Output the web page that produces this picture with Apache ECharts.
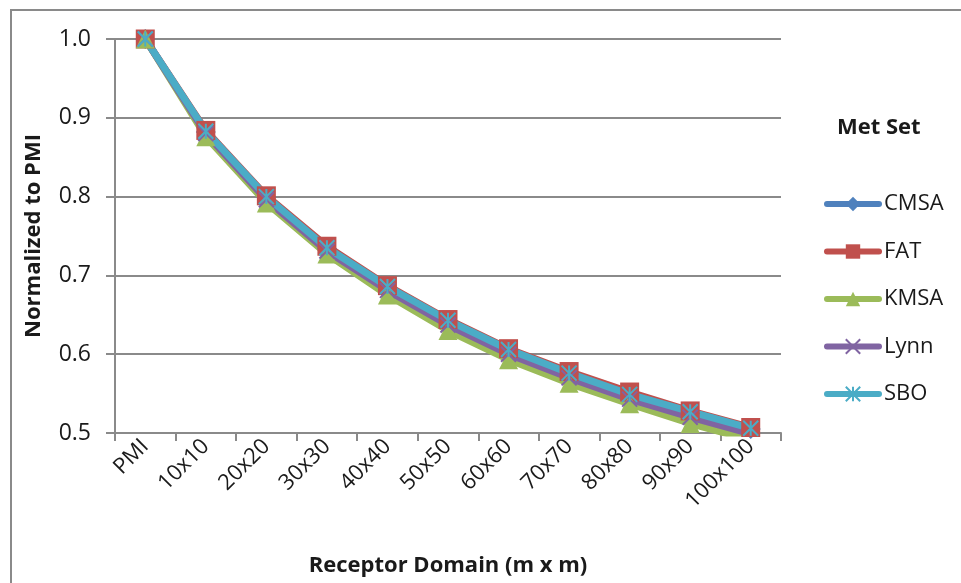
<!DOCTYPE html>
<html>
<head>
<meta charset="utf-8">
<script src="https://cdn.jsdelivr.net/npm/echarts@6/dist/echarts.min.js"></script>
<style>
  html, body { margin: 0; padding: 0; background: #fff; }
  #chart { width: 961px; height: 583px; }
</style>
</head>
<body>
<div id="chart"></div>
<script>
// Receptor domain sizes along the x axis
const categories = ['PMI', '10x10', '20x20', '30x30', '40x40', '50x50', '60x60', '70x70', '80x80', '90x90', '100x100'];

// Normalized values per met set
const cmsa = [1.0, 0.882, 0.799, 0.734, 0.685, 0.642, 0.605, 0.575, 0.548, 0.525, 0.505];
const fat  = [1.0, 0.884, 0.801, 0.737, 0.687, 0.644, 0.607, 0.578, 0.552, 0.528, 0.507];
const kmsa = [1.0, 0.876, 0.792, 0.727, 0.675, 0.630, 0.593, 0.563, 0.537, 0.512, 0.491];
const lynn = [1.0, 0.880, 0.796, 0.731, 0.681, 0.637, 0.600, 0.570, 0.543, 0.520, 0.499];
const sbo  = [1.0, 0.883, 0.800, 0.735, 0.686, 0.643, 0.606, 0.576, 0.549, 0.527, 0.506];

const yTicks = [0.5, 0.6, 0.7, 0.8, 0.9, 1.0];

const FONT = 'Open Sans';
const crossPath = 'path://M0,0L10,10M10,0L0,10';
const starPath = 'path://M0,0L10,10M10,0L0,10M5,0L5,10';

function lineSeries(name, data, color, symbol, size, stroked) {
  return {
    name: name,
    type: 'line',
    data: data,
    symbol: symbol,
    symbolSize: size,
    showAllSymbol: true,
    lineStyle: { color: color, width: 7, cap: 'round', join: 'round' },
    itemStyle: stroked
      ? { color: color, borderColor: color, borderWidth: 2 }
      : { color: color, borderWidth: 0 },
    emphasis: { disabled: true },
    animation: false,
    clip: true
  };
}

const chart = echarts.init(document.getElementById('chart'), null, { renderer: 'canvas' });
chart.setOption({
  backgroundColor: '#ffffff',
  animation: false,
  textStyle: { fontFamily: FONT },
  title: {
    text: 'Met Set',
    left: 832,
    top: 112,
    textStyle: { fontFamily: FONT, fontSize: 22, fontWeight: 'bold', color: '#1a1a1a' }
  },
  legend: {
    orient: 'vertical',
    left: 819,
    top: 188,
    itemWidth: 52,
    itemHeight: 18,
    itemGap: 25.5,
    lineStyle: { width: 6, cap: 'round' },
    textStyle: { fontFamily: FONT, fontSize: 22, color: '#1a1a1a' },
    data: ['CMSA', 'FAT', 'KMSA', 'Lynn', 'SBO']
  },
  grid: { left: 115, right: 180, top: 39, bottom: 150, containLabel: false },
  xAxis: {
    type: 'category',
    data: categories,
    boundaryGap: true,
    name: 'Receptor Domain (m x m)',
    nameLocation: 'middle',
    nameGap: 122,
    nameTextStyle: { fontFamily: FONT, fontSize: 22, fontWeight: 'bold', color: '#1a1a1a' },
    axisLine: { lineStyle: { color: '#8a8a8a', width: 2 } },
    axisTick: { show: true, length: 8, lineStyle: { color: '#8a8a8a', width: 2 } },
    axisLabel: { rotate: 45, fontFamily: FONT, fontSize: 22, color: '#1a1a1a', margin: 10 },
    splitLine: { show: false }
  },
  yAxis: {
    type: 'value',
    min: 0.5,
    max: 1.0,
    interval: 0.1,
    name: 'Normalized to PMI',
    nameLocation: 'middle',
    nameGap: 70,
    nameRotate: 90,
    nameTextStyle: { fontFamily: FONT, fontSize: 22, fontWeight: 'bold', color: '#1a1a1a' },
    axisLine: { show: true, lineStyle: { color: '#8a8a8a', width: 2 } },
    axisTick: { show: true, inside: false, length: 9, lineStyle: { color: '#8a8a8a', width: 2 } },
    axisLabel: {
      fontFamily: FONT, fontSize: 23, color: '#1a1a1a', margin: 24,
      formatter: function (v) {
        const t = yTicks.find(function (k) { return Math.abs(k - v) < 1e-6; });
        return t !== undefined ? t.toFixed(1) : '';
      }
    },
    splitLine: { show: true, lineStyle: { color: '#8a8a8a', width: 2 } }
  },
  graphic: [{
    type: 'rect',
    shape: { x: 11, y: 10, width: 1200, height: 1200 },
    style: { fill: 'none', stroke: '#8a8a8a', lineWidth: 2 },
    silent: true,
    z: 0
  }],
  series: [
    lineSeries('CMSA', cmsa, '#4F81BD', 'diamond', 20, false),
    lineSeries('FAT', fat, '#C0504D', 'rect', 19, false),
    lineSeries('KMSA', kmsa, '#9BBB59', 'triangle', 19, false),
    lineSeries('Lynn', lynn, '#8064A2', crossPath, 15, true),
    lineSeries('SBO', sbo, '#4BACC6', starPath, 15, true)
  ]
});
</script>
</body>
</html>
